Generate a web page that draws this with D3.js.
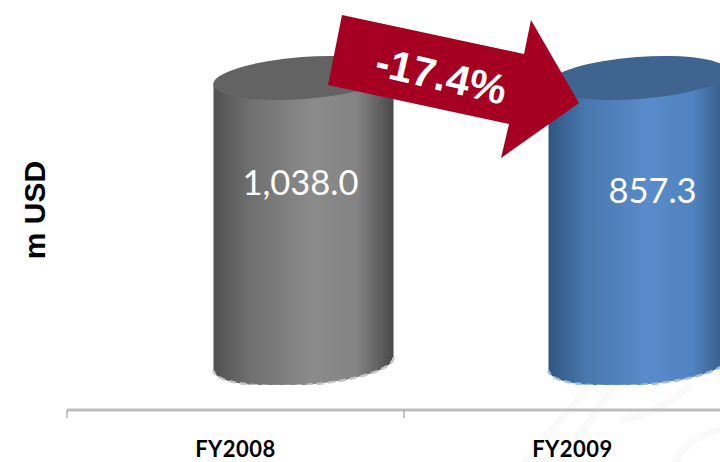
<!DOCTYPE html>
<html><head><meta charset="utf-8"><script src="https://cdn.jsdelivr.net/npm/d3@7/dist/d3.min.js"></script>
<style>html,body{margin:0;background:#fff}svg{display:block}</style></head><body><svg id="c" width="720" height="462"></svg>
<script>
const categories = ["FY2008", "FY2009"];
const values = ["1,038.0", "857.3"];
const drawnLevels = [100, 100];
const barOffsets = [68, 66];
const changeLabel = "-17.4%";
const axisTitle = "m USD";
const svg = d3.select("#c"), defs = svg.append("defs");
const W = 337;
const x = d3.scaleBand().domain(categories).range([67, 67 + 2 * W]);
const y = d3.scaleLinear().domain([0, 100]).range([364, 78]);
const grads = [["#505050","#6f6f6f","#8b8b8b","#838383","#484848"],["#2f5680","#4877ad","#5a8bcb","#5083c0","#33587f"]];
const tops = ["#636363", "#3f648f"];
const rims = ["#c4c4c4", "#9dbce0"];
grads.forEach((g, i) => {
  const lg = defs.append("linearGradient").attr("id", "g" + i);
  [0, .2, .55, .8, 1].forEach((o, k) => lg.append("stop").attr("offset", o).attr("stop-color", g[k]));
});
defs.append("clipPath").attr("id", "floor").append("rect").attr("width", 720).attr("height", 385);
const wm = svg.append("g").attr("fill", "none").attr("stroke", "#f9f9f9").attr("stroke-width", 7);
wm.append("path").attr("d", "M525 462L590 385M560 462L615 385M620 420Q660 415 690 385M675 462Q690 435 720 430");
const axis = d3.axisBottom(x).tickSize(8).tickPadding(23).tickFormat(d => d);
const ag = svg.append("g").attr("transform", "translate(0,410)").call(axis);
ag.select(".domain").attr("stroke", "#bfbfbf").attr("stroke-width", 3).attr("d", `M67 0H741`);
ag.selectAll(".tick line").remove();
d3.range(3).forEach(i => ag.append("line").attr("x1", 67 + i * W).attr("x2", 67 + i * W).attr("y1", 0).attr("y2", 8).attr("stroke", "#8c8c8c"));
ag.selectAll(".tick text").attr("font-family", "Lato, Liberation Sans").attr("font-size", 22).attr("letter-spacing", 0.5).attr("font-weight", 700).attr("fill", "#000");
const rx = 90, ry = 21, tilt = -4.2;
const bars = svg.append("g").attr("clip-path", "url(#floor)");
categories.forEach((c, i) => {
  const cx = x(c) + x.bandwidth() / 2 + barOffsets[i], top = y(drawnLevels[i]), bot = y(0);
  const t = Math.tan(tilt * Math.PI / 180) * rx;
  const g = bars.append("g");
  g.append("path").attr("fill", `url(#g${i})`).attr("d",
    `M${cx - rx} ${top - t}L${cx + rx} ${top + t}L${cx + rx} ${bot + t}A${rx} ${ry} ${tilt} 0 1 ${cx - rx} ${bot - t}Z`);
  g.append("path").attr("fill", "none").attr("stroke", rims[i]).attr("stroke-width", 2.5).attr("stroke-dasharray", "7 4").attr("d",
    `M${cx + rx} ${bot + t}A${rx} ${ry} ${tilt} 0 1 ${cx - rx} ${bot - t}`);
  g.append("ellipse").attr("cx", cx).attr("cy", top).attr("rx", rx + 0.5).attr("ry", ry).attr("fill", tops[i]).attr("transform", `rotate(${tilt} ${cx} ${top})`);
  svg.append("text").attr("x", cx + (i ? 14 : -3)).attr("y", i ? 203 : 195).attr("text-anchor", "middle").attr("font-family", "Lato, Open Sans").attr("font-size", 34.5).attr("fill", "#fff").text(values[i]);
});
svg.append("text").attr("transform", "translate(45,210) rotate(-90)").attr("text-anchor", "middle").attr("font-family", "Liberation Sans, Arial").attr("font-size", 30).attr("font-weight", 700).text(axisTitle);
svg.append("polygon").attr("fill", "#a50021").attr("points", "342,15 524,54 531,20 579,103 501,158 509,124 328,85");
svg.append("text").attr("transform", "translate(438,90) rotate(13)").attr("text-anchor", "middle").attr("font-family", "Liberation Sans, Arial").attr("font-size", 42).attr("font-weight", 700).attr("fill", "#fff").text(changeLabel);
</script></body></html>
